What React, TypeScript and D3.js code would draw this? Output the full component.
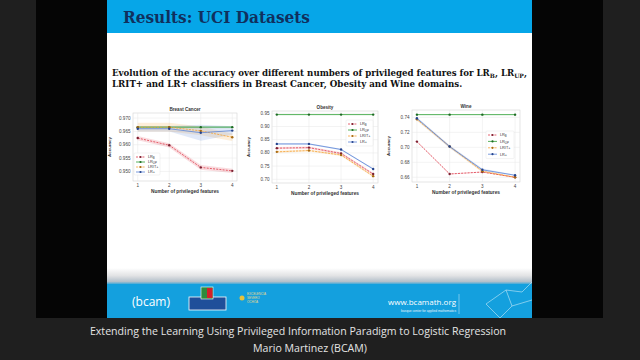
import * as d3 from 'd3';
import React from 'react';

// number of privileged features (x axis, same for every panel)
const features = [1, 2, 3, 4];
const xTicks = [1, 2, 3, 4];

// Breast Cancer
const bcLRB = [0.9625, 0.9598, 0.9515, 0.9502];
const bcLRUP = [0.9666, 0.9666, 0.9666, 0.9666];
const bcLRIT = [0.9666, 0.9666, 0.9652, 0.9628];
const bcLRP = [0.966, 0.966, 0.9645, 0.9653];
const bcLRBsd = [0.0008, 0.0008, 0.0009, 0.0008];
const bcLRUPsd = [0.0004, 0.0004, 0.0004, 0.0004];
const bcLRITsd = [0.0016, 0.0016, 0.0016, 0.0014];
const bcLRPsd = [0.0010, 0.0010, 0.0030, 0.0016];
const bcYTicks = [0.95, 0.955, 0.96, 0.965, 0.97];

// Obesity
const obLRB = [0.818, 0.82, 0.798, 0.72];
const obLRUP = [0.945, 0.945, 0.945, 0.945];
const obLRIT = [0.804, 0.809, 0.792, 0.712];
const obLRP = [0.834, 0.834, 0.813, 0.739];
const obLRBsd = [0.004, 0.004, 0.004, 0.004];
const obLRUPsd = [0.001, 0.001, 0.001, 0.001];
const obLRITsd = [0.004, 0.004, 0.004, 0.004];
const obLRPsd = [0.003, 0.003, 0.003, 0.003];
const obYTicks = [0.7, 0.75, 0.8, 0.85, 0.9, 0.95];

// Wine
const wiLRB = [0.7076, 0.6644, 0.667, 0.66];
const wiLRUP = [0.7436, 0.7436, 0.7436, 0.7436];
const wiLRIT = [0.7373, 0.701, 0.668, 0.66];
const wiLRP = [0.7387, 0.701, 0.67, 0.6627];
const wiLRBsd = [0.0006, 0.0006, 0.0006, 0.0006];
const wiLRUPsd = [0.0004, 0.0004, 0.0004, 0.0004];
const wiLRITsd = [0.0018, 0.0018, 0.0016, 0.0008];
const wiLRPsd = [0.0018, 0.0018, 0.0016, 0.0008];
const wiYTicks = [0.66, 0.68, 0.7, 0.72, 0.74];

const legendLabels = [
  { main: 'LR', sub: 'B' },
  { main: 'LR', sub: 'UP' },
  { main: 'LRIT+', sub: '' },
  { main: 'LR+', sub: '' },
];

const styles = [
  { color: '#de3b4b', marker: '#7d1f30', dash: '2,1.2' },
  { color: '#2f9f35', marker: '#1c6b22', dash: '' },
  { color: '#f5a233', marker: '#a86a12', dash: '2.2,1' },
  { color: '#5a84d6', marker: '#24438c', dash: '' },
];

const font = 'Arial, "Liberation Sans", sans-serif';

const Panel = ({ title, x0, x1, y0, y1, yDomain, yTicks, yFmt, series, sds, legend }) => {
  const x = d3.scaleLinear().domain([0.85, 4.15]).range([x0, x1]);
  const y = d3.scaleLinear().domain(yDomain).range([y1, y0]);
  const line = d3.line<number>().x((_, i) => x(features[i])).y(d => y(d));
  const fmt = d3.format(yFmt);

  return (
    <g>
      <rect x={x0} y={y0} width={x1 - x0} height={y1 - y0} fill="#fff" stroke="#d4d4d4" strokeWidth={0.6} />
      {xTicks.map(t => (
        <line key={'gx' + t} x1={x(t)} x2={x(t)} y1={y0} y2={y1} stroke="#e6e6e6" strokeWidth={0.5} />
      ))}
      {yTicks.map(t => (
        <line key={'gy' + t} x1={x0} x2={x1} y1={y(t)} y2={y(t)} stroke="#e6e6e6" strokeWidth={0.5} />
      ))}
      {series.map((s, k) => {
        const area = d3.area<number>()
          .x((_, i) => x(features[i]))
          .y0((d, i) => y(d - sds[k][i]))
          .y1((d, i) => y(d + sds[k][i]));
        return <path key={'a' + k} d={area(s) || ''} fill={styles[k].color} opacity={0.18} />;
      })}
      {series.map((s, k) => (
        <g key={'s' + k}>
          <path d={line(s) || ''} fill="none" stroke={styles[k].color} strokeWidth={0.8}
            strokeDasharray={styles[k].dash || undefined} />
          {s.map((v, i) => (
            <circle key={i} cx={x(features[i])} cy={y(v)} r={1.2} fill={styles[k].marker} />
          ))}
        </g>
      ))}
      {yTicks.map(t => (
        <text key={'ty' + t} x={x0 - 2.5} y={y(t) + 1.5} fontSize={4.6} textAnchor="end" fill="#444"
          fontFamily={font}>{fmt(t)}</text>
      ))}
      {xTicks.map(t => (
        <text key={'tx' + t} x={x(t)} y={y1 + 6} fontSize={4.6} textAnchor="middle" fill="#444"
          fontFamily={font}>{t}</text>
      ))}
      <text x={(x0 + x1) / 2} y={y0 - 2.5} fontSize={4.6} fontWeight="bold" textAnchor="middle" fill="#333"
        fontFamily={font}>{title}</text>
      <text x={(x0 + x1) / 2} y={y1 + 12} fontSize={4.8} fontWeight="bold" textAnchor="middle" fill="#333"
        fontFamily={font}>Number of privileged features</text>
      <text transform={`translate(${x0 - 22},${(y0 + y1) / 2}) rotate(-90)`} fontSize={4.4} fontWeight="bold"
        textAnchor="middle" fill="#333" fontFamily={font}>Accuracy</text>
      <g transform={`translate(${legend.x},${legend.y})`}>
        <rect x={-2} y={-4} width={legend.w} height={legend.gap * 4 + 2} fill="#fff" fillOpacity={0.85}
          stroke="#e0e0e0" strokeWidth={0.4} rx={1} />
        {legendLabels.map((l, k) => (
          <g key={'l' + k} transform={`translate(0,${k * legend.gap})`}>
            <line x1={0} x2={9} y1={0} y2={0} stroke={styles[k].color} strokeWidth={0.8}
              strokeDasharray={styles[k].dash || undefined} />
            <circle cx={4.5} cy={0} r={1.1} fill={styles[k].marker} />
            <text x={12} y={1.4} fontSize={3.8} fill="#333" fontFamily={font}>
              {l.main}
              {l.sub && <tspan fontSize={2.8} dy={1}>{l.sub}</tspan>}
            </text>
          </g>
        ))}
      </g>
    </g>
  );
};

const App = () => {
  const serif = '"DejaVu Serif", "Liberation Serif", serif';
  return (
    <svg width={640} height={360} style={{ position: 'absolute', left: 0, top: 0, display: 'block' }}>
      <defs>
        <linearGradient id="foot" x1="0" x2="0" y1="0" y2="1">
          <stop offset="0" stopColor="#ffffff" />
          <stop offset="0.45" stopColor="#e2e3e5" />
          <stop offset="0.8" stopColor="#b4c0ca" />
          <stop offset="1" stopColor="#14a0de" />
        </linearGradient>
      </defs>
      <rect x={0} y={0} width={640} height={360} fill="#1f1f1f" />
      <rect x={36} y={0} width={567} height={318} fill="#050505" />
      <rect x={107} y={0} width={425} height={318} fill="#ffffff" />
      <rect x={107} y={0} width={425} height={33} fill="#06a6e8" />
      <text x={123} y={23} fontSize={16} fontWeight="bold" fill="#10305e" fontFamily={serif}
        textLength={187} lengthAdjust="spacingAndGlyphs">Results: UCI Datasets</text>

      <text x={112} y={76} fontSize={8.65} fontWeight="bold" fill="#111" fontFamily={serif}>
        Evolution of the accuracy over different numbers of privileged features for LR
        <tspan fontSize={6} dy={1.5}>B</tspan>
        <tspan dy={-1.5}>, LR</tspan>
        <tspan fontSize={6} dy={1.5}>UP</tspan>
        <tspan dy={-1.5}>,</tspan>
      </text>
      <text x={112} y={87} fontSize={8.7} fontWeight="bold" fill="#111" fontFamily={serif}>
        LRIT+ and LR+ classifiers in Breast Cancer, Obesity and Wine domains.
      </text>

      <Panel title="Breast Cancer" x0={133} x1={237} y0={113} y1={181}
        yDomain={[0.9464, 0.9719]} yTicks={bcYTicks} yFmt=".3f"
        series={[bcLRB, bcLRUP, bcLRIT, bcLRP]} sds={[bcLRBsd, bcLRUPsd, bcLRITsd, bcLRPsd]}
        legend={{ x: 136, y: 157, gap: 5, w: 26 }} />
      <Panel title="Obesity" x0={272} x1={378} y0={111} y1={183}
        yDomain={[0.686, 0.9587]} yTicks={obYTicks} yFmt=".2f"
        series={[obLRB, obLRUP, obLRIT, obLRP]} sds={[obLRBsd, obLRUPsd, obLRITsd, obLRPsd]}
        legend={{ x: 348, y: 124, gap: 6, w: 27 }} />
      <Panel title="Wine" x0={412} x1={520} y0={110} y1={182}
        yDomain={[0.6537, 0.7498]} yTicks={wiYTicks} yFmt=".2f"
        series={[wiLRB, wiLRUP, wiLRIT, wiLRP]} sds={[wiLRBsd, wiLRUPsd, wiLRITsd, wiLRPsd]}
        legend={{ x: 488, y: 135, gap: 6.4, w: 28 }} />

      {/* footer */}
      <rect x={107} y={268} width={425} height={17} fill="url(#foot)" />
      <rect x={107} y={284} width={425} height={34} fill="#14a0de" />
      <text x={132} y={306} fontSize={12} fill="#ffffff" fontFamily='"Open Sans", sans-serif'>(bcam)</text>
      <rect x={189} y={297} width={37} height={13} fill="#1f4f9a" stroke="#ffffff" strokeWidth={0.8} />
      <rect x={201} y={287} width={12} height={12} fill="#2e8b3c" stroke="#ffffff" strokeWidth={0.6} />
      <rect x={207} y={288} width={5.5} height={10} fill="#d4202a" />
      <circle cx={242} cy={298} r={2.5} fill="#e8c23a" />
      <text x={247} y={295} fontSize={3} fill="#e9d98a" fontFamily={font}>EXCELENCIA</text>
      <text x={247} y={299} fontSize={3} fill="#e9d98a" fontFamily={font}>SEVERO</text>
      <text x={247} y={303} fontSize={3} fill="#e9d98a" fontFamily={font}>OCHOA</text>
      <text x={456} y={305} fontSize={8} textAnchor="end" fill="#ffffff" fontFamily='"Open Sans", sans-serif'>www.bcamath.org</text>
      <text x={456} y={312} fontSize={3.2} textAnchor="end" fill="#e8f4fb" fontFamily={font}>basque center for applied mathematics</text>
      <line x1={459} x2={459} y1={294} y2={314} stroke="#d0ecf8" strokeWidth={0.5} />
      <path d="M486,304 L506,290 L522,292 L532,282 M506,290 L512,306 L500,318 M512,306 L532,300 M486,304 L500,318"
        fill="none" stroke="#d6eef9" strokeWidth={0.7} opacity={0.8} />

      {/* caption */}
      <text x={298} y={335} fontSize={10.6} textAnchor="middle" fill="#e4e4e4" fontFamily='"Open Sans", sans-serif'>
        Extending the Learning Using Privileged Information Paradigm to Logistic Regression
      </text>
      <text x={310} y={352} fontSize={10.6} textAnchor="middle" fill="#e4e4e4" fontFamily='"Open Sans", sans-serif'>
        Mario Martinez (BCAM)
      </text>
    </svg>
  );
};

export default App;
